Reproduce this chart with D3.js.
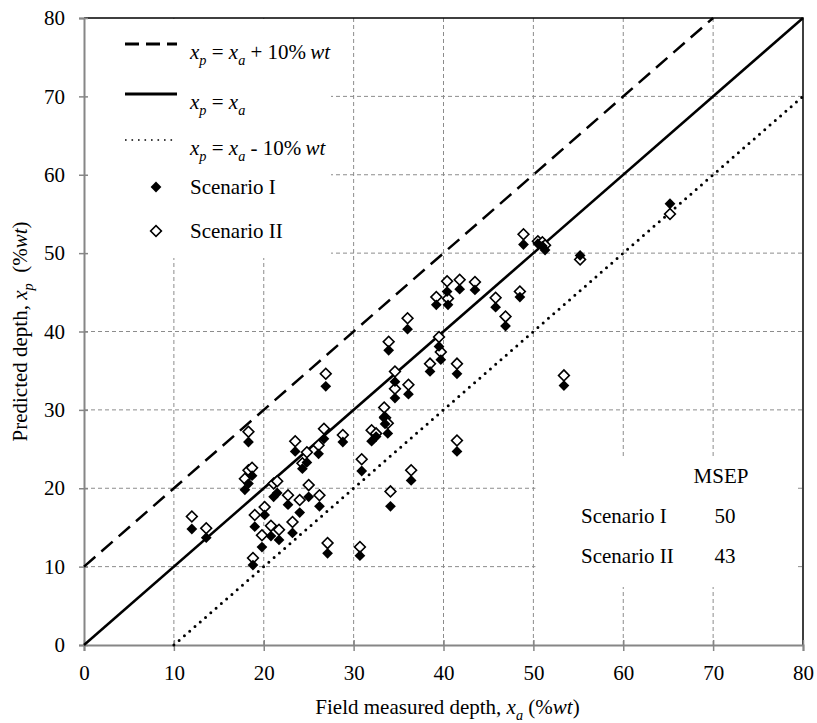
<!DOCTYPE html>
<html>
<head>
<meta charset="utf-8">
<script src="https://cdn.jsdelivr.net/npm/d3@7"></script>
<style>
  body { margin: 0; background: #fff; }
  svg text { font-family: "Liberation Serif", "Times New Roman", serif; fill: #000; }
</style>
</head>
<body>
<div id="chart"></div>
<script>
// measured depth (shared by both scenarios)
const fieldX = [12.0, 13.6, 17.9, 18.3, 18.7, 18.3, 18.8, 19.0, 19.8, 20.1, 20.8, 21.1, 21.5, 21.7,
  22.7, 23.2, 23.5, 24.0, 24.3, 24.8, 25.0, 26.1, 26.2, 26.7, 26.9, 27.1, 28.8, 30.7, 30.9,
  32.0, 32.5, 33.4, 33.5, 33.8, 33.9, 34.1, 34.6, 34.6, 36.0, 36.1, 36.4, 38.5, 39.2, 39.5,
  39.7, 40.4, 40.5, 41.5, 41.5, 41.8, 43.5, 45.8, 46.9, 48.5, 48.9, 50.5, 51.0, 51.3, 53.4,
  55.2, 65.2];
// predicted, scenario I
const predI = [14.8, 13.7, 19.8, 20.6, 21.6, 25.9, 10.2, 15.1, 12.5, 16.6, 13.9, 18.9, 19.4, 13.4,
  17.9, 14.3, 24.7, 16.9, 22.5, 23.3, 18.9, 24.4, 17.7, 26.3, 33.0, 11.7, 25.9, 11.4, 22.2,
  26.0, 26.6, 29.1, 28.2, 27.0, 37.6, 17.7, 33.6, 31.5, 40.3, 32.0, 21.0, 34.9, 43.4, 38.1,
  36.4, 45.1, 43.4, 34.6, 24.7, 45.4, 45.3, 43.1, 40.7, 44.4, 51.1, 51.2, 50.9, 50.4, 33.1,
  49.7, 56.3];
// predicted, scenario II
const predII = [16.4, 14.9, 21.2, 22.3, 22.6, 27.2, 11.1, 16.6, 14.0, 17.6, 15.2, 20.6, 20.9, 14.7,
  19.1, 15.7, 26.0, 18.5, 23.2, 24.6, 20.4, 25.5, 19.1, 27.6, 34.6, 13.0, 26.8, 12.5, 23.7,
  27.4, 27.0, 30.3, 29.0, 28.3, 38.7, 19.6, 34.9, 32.7, 41.7, 33.2, 22.3, 35.9, 44.4, 39.3,
  37.4, 46.4, 44.2, 35.9, 26.1, 46.6, 46.3, 44.3, 41.9, 45.1, 52.4, 51.5, 51.4, 51.0, 34.4,
  49.2, 55.0];

const ticks = [0, 10, 20, 30, 40, 50, 60, 70, 80];
const seriesNames = ['Scenario I', 'Scenario II'];
const msepValues = [50, 43];
// reference lines: offset from x_p = x_a
const refOffsets = [10, 0, -10];

const width = 817, height = 723;
const margin = { left: 84, right: 14, top: 18, bottom: 78 };
const serif = '"Liberation Serif", "Times New Roman", serif';

const svg = d3.select('#chart').append('svg')
  .attr('width', width)
  .attr('height', height);

const x = d3.scaleLinear().domain([0, 80]).range([margin.left, width - margin.right]);
const y = d3.scaleLinear().domain([0, 80]).range([height - margin.bottom, margin.top]);

// Grid
const grid = svg.append('g')
  .attr('stroke', '#8c8c8c')
  .attr('stroke-width', 1)
  .attr('stroke-dasharray', '4,3');

grid.selectAll('.gx')
  .data(ticks.slice(1, -1))
  .enter().append('line')
  .attr('x1', d => x(d)).attr('x2', d => x(d))
  .attr('y1', y(0)).attr('y2', y(80));

grid.selectAll('.gy')
  .data(ticks.slice(1, -1))
  .enter().append('line')
  .attr('x1', x(0)).attr('x2', x(80))
  .attr('y1', d => y(d)).attr('y2', d => y(d));

// White boxes behind legend and MSEP table hide the grid
svg.append('rect')
  .attr('x', x(0) + 1).attr('y', y(80) + 1)
  .attr('width', 246).attr('height', 239)
  .attr('fill', '#fff');

svg.append('rect')
  .attr('x', x(50) + 2).attr('y', 458)
  .attr('width', 262).attr('height', 129)
  .attr('fill', '#fff');

// Top and right border
svg.append('path')
  .attr('d', `M${x(0)},${y(80)}H${x(80)}V${y(0)}`)
  .attr('fill', 'none')
  .attr('stroke', '#000')
  .attr('stroke-width', 1.5);

// Axes
const xAxis = svg.append('g')
  .attr('transform', `translate(0,${y(0)})`)
  .call(d3.axisBottom(x).tickValues(ticks).tickSize(6).tickPadding(14));
const yAxis = svg.append('g')
  .attr('transform', `translate(${x(0)},0)`)
  .call(d3.axisLeft(y).tickValues(ticks).tickSize(5).tickPadding(14));

[xAxis, yAxis].forEach(a => {
  a.attr('font-family', serif);
  a.select('.domain').attr('stroke', '#868686').attr('stroke-width', 2);
  a.selectAll('.tick line').attr('stroke', '#868686').attr('stroke-width', 1.5);
  a.selectAll('.tick text')
    .attr('font-family', serif)
    .attr('font-size', 21)
    .attr('fill', '#000');
});
xAxis.selectAll('.tick line').attr('y1', -5).attr('y2', 6);
yAxis.selectAll('.tick line').attr('x1', 4).attr('x2', -5);

// Reference lines
const lineStyles = [
  { dash: '15,8', cap: 'butt', w: 2.5 },
  { dash: null, cap: 'butt', w: 2.5 },
  { dash: '0,7', cap: 'round', w: 3 }
];

refOffsets.forEach((off, i) => {
  const x0 = Math.max(0, -off), x1 = Math.min(80, 80 - off);
  svg.append('line')
    .attr('x1', x(x0)).attr('y1', y(x0 + off))
    .attr('x2', x(x1)).attr('y2', y(x1 + off))
    .attr('stroke', '#000')
    .attr('stroke-width', lineStyles[i].w)
    .attr('stroke-linecap', lineStyles[i].cap)
    .attr('stroke-dasharray', lineStyles[i].dash);
});

// Points
const diamond = d3.symbol().type(d3.symbolSquare).size(58)();
const pts = fieldX.map((v, i) => ({ x: v, a: predI[i], b: predII[i] }));

svg.append('g').selectAll('path')
  .data(pts)
  .enter().append('path')
  .attr('d', diamond)
  .attr('transform', d => `translate(${x(d.x)},${y(d.b)}) rotate(45)`)
  .attr('fill', '#fff')
  .attr('stroke', '#000')
  .attr('stroke-width', 1.6);

svg.append('g').selectAll('path')
  .data(pts)
  .enter().append('path')
  .attr('d', diamond)
  .attr('transform', d => `translate(${x(d.x)},${y(d.a)}) rotate(45)`)
  .attr('fill', '#000');

// Rich text helper: parts = [text, italic, sub]
function richText(g, px, py, parts, size) {
  const t = g.append('text').attr('x', px).attr('y', py)
    .attr('font-size', size).attr('font-family', serif);
  let shifted = false;
  parts.forEach(([s, it, sub]) => {
    const sp = t.append('tspan').text(s);
    if (it) sp.attr('font-style', 'italic');
    if (sub && !shifted) { sp.attr('dy', 6).attr('font-size', size * 0.68); shifted = true; }
    else if (sub) sp.attr('font-size', size * 0.68);
    else if (shifted) { sp.attr('dy', -6); shifted = false; }
  });
  return t;
}

// Legend
const leg = svg.append('g');
const legRows = [44, 94, 140];
const legTexts = [
  [['x', 1], ['p', 1, 1], [' = '], ['x', 1], ['a', 1, 1], [' + 10%\u2009'], ['wt', 1]],
  [['x', 1], ['p', 1, 1], [' = '], ['x', 1], ['a', 1, 1]],
  [['x', 1], ['p', 1, 1], [' = '], ['x', 1], ['a', 1, 1], [' - 10%\u2009'], ['wt', 1]]
];
const legDash = ['14,7', null, '1.6,4.9'];
legRows.forEach((ry, i) => {
  leg.append('line')
    .attr('x1', 125).attr('x2', 177)
    .attr('y1', ry).attr('y2', ry)
    .attr('stroke', '#000')
    .attr('stroke-width', i === 2 ? 1.6 : 3)
    .attr('stroke-dasharray', legDash[i]);
  richText(leg, 190, ry + 15, legTexts[i], 21);
});

const legMarkRows = [187, 231];
legMarkRows.forEach((ry, i) => {
  leg.append('path')
    .attr('d', diamond)
    .attr('transform', `translate(156,${ry}) rotate(45)`)
    .attr('fill', i === 0 ? '#000' : '#fff')
    .attr('stroke', '#000')
    .attr('stroke-width', i === 0 ? 0 : 1.6);
  leg.append('text')
    .attr('x', 190).attr('y', ry + 7)
    .attr('font-size', 21).attr('font-family', serif)
    .text(seriesNames[i]);
});

// MSEP table
const tbl = svg.append('g').attr('font-size', 21).attr('font-family', serif);
tbl.append('text').attr('x', 721).attr('y', 483).attr('text-anchor', 'middle').text('MSEP');
seriesNames.forEach((n, i) => {
  tbl.append('text').attr('x', 581).attr('y', 523 + i * 40).text(n);
  tbl.append('text').attr('x', 725).attr('y', 523 + i * 40).attr('text-anchor', 'middle').text(msepValues[i]);
});

// Axis titles
richText(svg, 0, 0, [['Field measured depth, '], ['x', 1], ['a', 1, 1], [' (%'], ['wt', 1], [')']], 21)
  .attr('x', x(40) + 4).attr('y', 714).attr('text-anchor', 'middle');

richText(svg, 0, 0, [['Predicted depth, '], ['x', 1], ['p', 1, 1], ['\u2002(%'], ['wt', 1], [')']], 21)
  .attr('text-anchor', 'middle')
  .attr('transform', `translate(27,${y(40)}) rotate(-90)`);
</script>
</body>
</html>
